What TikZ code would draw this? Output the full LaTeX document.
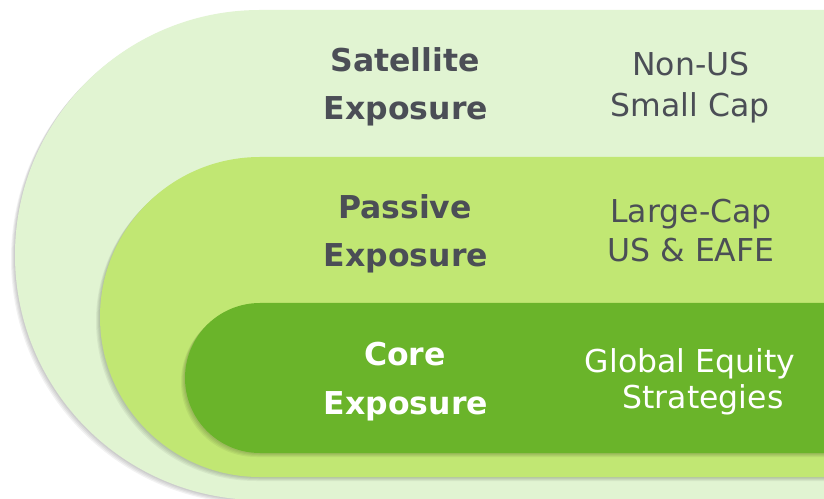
\documentclass[tikz,border=0pt]{standalone}
\usepackage{fontspec}
\setmainfont{DejaVu Sans}
\definecolor{outerc}{HTML}{E1F4D2}
\definecolor{midc}{HTML}{C1E773}
\definecolor{innerc}{HTML}{6AB42A}
\definecolor{txtc}{HTML}{4B4E56}
\tikzset{
  px/.style={x=1pt,y=1pt},
  hd/.style={font={\fontsize{31.5}{36}\selectfont\bfseries},text=txtc,anchor=base,inner sep=0pt},
  rt/.style={font={\fontsize{31.5}{36}\selectfont},text=txtc,anchor=base,inner sep=0pt},
  shad/.style={fill=black,opacity=0.05}
}
\begin{document}
\begin{tikzpicture}[px]
\useasboundingbox (0,0) rectangle (824,498);
\fill[white] (0,0) rectangle (824,498);
% outer
\foreach \d in {1,2,3,4}{
  \fill[shad] (840,488-\d) -- (260-\d,488-\d) arc[start angle=90,end angle=270,radius=245] -- (840,-2-\d) -- cycle;
}
\fill[outerc] (840,488) -- (260,488) arc[start angle=90,end angle=270,radius=245] -- (840,-2) -- cycle;
% middle
\foreach \d in {1,2,3,4}{
  \fill[shad] (840,341-\d) -- (260-\d,341-\d) arc[start angle=90,end angle=270,radius=160] -- (840,21-\d) -- cycle;
}
\fill[midc] (840,341) -- (260,341) arc[start angle=90,end angle=270,radius=160] -- (840,21) -- cycle;
% inner
\foreach \d in {1,2,3,4}{
  \fill[shad] (840,195-\d) -- (260-\d,195-\d) arc[start angle=90,end angle=270,radius=75] -- (840,45-\d) -- cycle;
}
\fill[innerc] (840,195) -- (260,195) arc[start angle=90,end angle=270,radius=75] -- (840,45) -- cycle;
% texts
\node[hd] (sat1) at (405,426) {Satellite};
\node[hd] (sat2) at (406,378) {Exposure};
\node[rt] (nus1) at (691,422) {Non-US};
\node[rt] (nus2) at (690,381) {Small Cap};
\node[hd] (pas1) at (405,279) {Passive};
\node[hd] (pas2) at (406,231) {Exposure};
\node[rt] (lc1) at (691,275) {Large-Cap};
\node[rt] (lc2) at (691,236) {US \& EAFE};
\node[hd,text=white] (cor1) at (405,132) {Core};
\node[hd,text=white] (cor2) at (406,84) {Exposure};
\node[rt,text=white] (ge1) at (690,125) {Global Equity};
\node[rt,text=white] (ge2) at (703,90) {Strategies};
\end{tikzpicture}
\end{document}
